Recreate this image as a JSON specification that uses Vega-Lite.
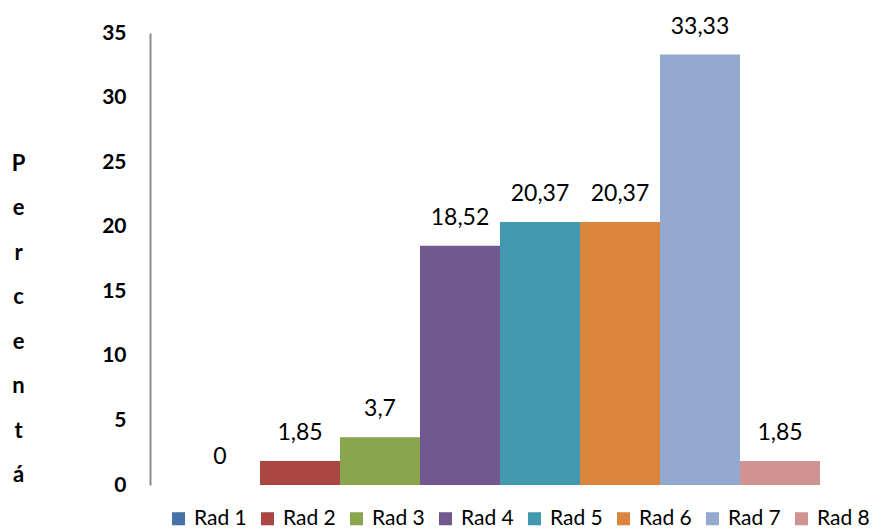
{
  "$schema": "https://vega.github.io/schema/vega-lite/v6.json",
  "width": 700,
  "height": 452,
  "autosize": "none",
  "padding": {"left": 150, "top": 33, "right": 41, "bottom": 47},
  "background": "white",
  "config": {"view": {"stroke": null}, "font": "Lato"},
  "data": {"values": [
    {"rad": "Rad 1", "value": 0, "label": "0"},
    {"rad": "Rad 2", "value": 1.85, "label": "1,85"},
    {"rad": "Rad 3", "value": 3.7, "label": "3,7"},
    {"rad": "Rad 4", "value": 18.52, "label": "18,52"},
    {"rad": "Rad 5", "value": 20.37, "label": "20,37"},
    {"rad": "Rad 6", "value": 20.37, "label": "20,37"},
    {"rad": "Rad 7", "value": 33.33, "label": "33,33"},
    {"rad": "Rad 8", "value": 1.85, "label": "1,85"}
  ]},
  "encoding": {
    "x": {"field": "rad", "type": "nominal", "axis": null,
          "scale": {"paddingInner": 0, "paddingOuter": 0.375}},
    "y": {"field": "value", "type": "quantitative",
          "scale": {"domain": [0, 35], "nice": false},
          "axis": {
            "values": [0, 5, 10, 15, 20, 25, 30, 35],
            "grid": false, "ticks": false,
            "domainColor": "#8c8c8c", "domainWidth": 2,
            "labelFont": "Lato", "labelFontSize": 21, "labelFontWeight": "bold",
            "labelColor": "black", "labelPadding": 24,
            "title": ["P", "e", "r", "c", "e", "n", "t", "á"],
            "titleAngle": 0, "titleFont": "Lato", "titleFontSize": 22,
            "titleFontWeight": "bold", "titleColor": "black",
            "titleLineHeight": 44.5, "titleAlign": "center",
            "titleBaseline": "middle", "titleX": -132, "titleY": 130
          }}
  },
  "layer": [
    {
      "mark": {"type": "bar"},
      "encoding": {
        "color": {"field": "rad", "type": "nominal",
          "scale": {"range": ["#4572A7", "#AA4643", "#89A54E", "#71588F", "#4198AF", "#DB843D", "#93A9CF", "#D19392"]},
          "legend": {
            "orient": "none", "direction": "horizontal", "legendX": 18, "legendY": 475,
            "title": null, "symbolType": "square", "symbolSize": 170,
            "symbolStrokeWidth": 0, "labelFont": "Lato", "labelFontSize": 21,
            "labelColor": "black", "columnPadding": 10, "symbolOffset": 0, "labelOffset": 5
          }}
      }
    },
    {
      "mark": {"type": "text", "baseline": "middle", "dy": -28, "fontSize": 23, "font": "Lato", "color": "black"},
      "encoding": {"text": {"field": "label"}}
    }
  ]
}
